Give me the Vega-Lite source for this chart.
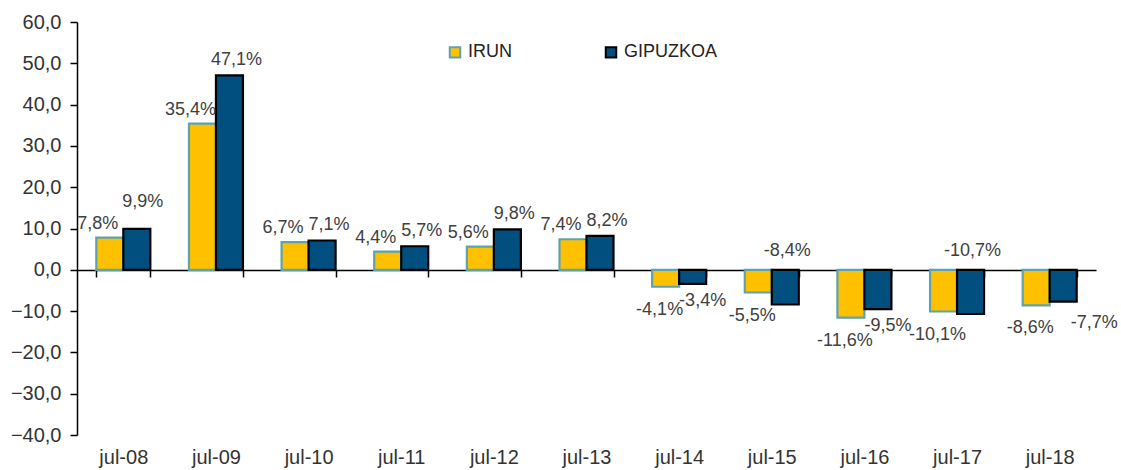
{
  "$schema": "https://vega.github.io/schema/vega-lite/v6.json",
  "autosize": {"type": "none"},
  "width": 1019,
  "height": 413,
  "padding": {"left": 77, "top": 22, "right": 25, "bottom": 35},
  "background": "white",
  "config": {
    "view": {"stroke": null},
    "font": "Liberation Sans",
    "axis": {"grid": false, "labelFont": "Liberation Sans", "labelColor": "#333333"},
    "legend": {"labelFont": "Liberation Sans"}
  },
  "data": {
    "values": [
      {"cat": "jul-08", "serie": "IRUN", "v": 7.8, "label": "7,8%"},
      {"cat": "jul-08", "serie": "GIPUZKOA", "v": 9.9, "label": "9,9%"},
      {"cat": "jul-09", "serie": "IRUN", "v": 35.4, "label": "35,4%"},
      {"cat": "jul-09", "serie": "GIPUZKOA", "v": 47.1, "label": "47,1%"},
      {"cat": "jul-10", "serie": "IRUN", "v": 6.7, "label": "6,7%"},
      {"cat": "jul-10", "serie": "GIPUZKOA", "v": 7.1, "label": "7,1%"},
      {"cat": "jul-11", "serie": "IRUN", "v": 4.4, "label": "4,4%"},
      {"cat": "jul-11", "serie": "GIPUZKOA", "v": 5.7, "label": "5,7%"},
      {"cat": "jul-12", "serie": "IRUN", "v": 5.6, "label": "5,6%"},
      {"cat": "jul-12", "serie": "GIPUZKOA", "v": 9.8, "label": "9,8%"},
      {"cat": "jul-13", "serie": "IRUN", "v": 7.4, "label": "7,4%"},
      {"cat": "jul-13", "serie": "GIPUZKOA", "v": 8.2, "label": "8,2%"},
      {"cat": "jul-14", "serie": "IRUN", "v": -4.1, "label": "-4,1%"},
      {"cat": "jul-14", "serie": "GIPUZKOA", "v": -3.4, "label": "-3,4%"},
      {"cat": "jul-15", "serie": "IRUN", "v": -5.5, "label": "-5,5%"},
      {"cat": "jul-15", "serie": "GIPUZKOA", "v": -8.4, "label": "-8,4%"},
      {"cat": "jul-16", "serie": "IRUN", "v": -11.6, "label": "-11,6%"},
      {"cat": "jul-16", "serie": "GIPUZKOA", "v": -9.5, "label": "-9,5%"},
      {"cat": "jul-17", "serie": "IRUN", "v": -10.1, "label": "-10,1%"},
      {"cat": "jul-17", "serie": "GIPUZKOA", "v": -10.7, "label": "-10,7%"},
      {"cat": "jul-18", "serie": "IRUN", "v": -8.6, "label": "-8,6%"},
      {"cat": "jul-18", "serie": "GIPUZKOA", "v": -7.7, "label": "-7,7%"}
    ]
  },
  "encoding": {
    "x": {
      "field": "cat", "type": "nominal", "sort": null,
      "scale": {"paddingInner": 0.417, "paddingOuter": 0.2085},
      "axis": {
        "title": null, "labelAngle": 0, "offset": -165,
        "domainColor": "#000000", "domainWidth": 1.5,
        "tickColor": "#000000", "tickSize": 7, "tickWidth": 1.5, "tickBand": "extent",
        "labelFontSize": 20, "labelPadding": 170, "labelBaseline": "top"
      }
    },
    "xOffset": {"field": "serie", "type": "nominal", "sort": ["IRUN", "GIPUZKOA"]},
    "y": {
      "field": "v", "type": "quantitative",
      "scale": {"domain": [-40, 60], "nice": false, "zero": false},
      "axis": {
        "title": null,
        "values": [-40, -30, -20, -10, 0, 10, 20, 30, 40, 50, 60],
        "labelExpr": "replace(format(datum.value, '.1f'), '.', ',')",
        "domainColor": "#000000", "domainWidth": 1.5,
        "tickColor": "#000000", "tickSize": 7, "tickWidth": 1.5,
        "labelFontSize": 20, "labelPadding": 9
      }
    }
  },
  "layer": [
    {
      "mark": {"type": "bar", "strokeWidth": 2.2},
      "encoding": {
        "fill": {
          "field": "serie", "type": "nominal",
          "scale": {"domain": ["IRUN", "GIPUZKOA"], "range": ["#FFC000", "#004F7F"]},
          "legend": {
            "title": null, "orient": "none", "legendX": 369, "legendY": 21,
            "direction": "horizontal", "columns": 2, "gridAlign": "all", "columnPadding": 39,
            "symbolType": "square", "symbolSize": 110, "symbolStrokeWidth": 2,
            "labelFontSize": 18, "labelColor": "#222222", "labelOffset": 4, "padding": 0
          }
        },
        "stroke": {
          "field": "serie", "type": "nominal",
          "scale": {"domain": ["IRUN", "GIPUZKOA"], "range": ["#5DA3AE", "#000000"]},
          "legend": {
            "title": null, "orient": "none", "legendX": 369, "legendY": 21,
            "direction": "horizontal", "columns": 2, "gridAlign": "all", "columnPadding": 39,
            "symbolType": "square", "symbolSize": 110, "symbolStrokeWidth": 2,
            "labelFontSize": 18, "labelColor": "#222222", "labelOffset": 4, "padding": 0
          }
        }
      }
    },
    {
      "transform": [{"filter": "datum.serie === 'IRUN' && datum.v > 0"}],
      "mark": {"type": "text", "fontSize": 18, "color": "#404040", "baseline": "middle", "dx": -12, "dy": -14},
      "encoding": {"text": {"field": "label"}}
    },
    {
      "transform": [{"filter": "datum.serie === 'GIPUZKOA' && datum.v > 0 && datum.cat !== 'jul-08'"}],
      "mark": {"type": "text", "fontSize": 18, "color": "#404040", "baseline": "middle", "dx": 7, "dy": -15},
      "encoding": {"text": {"field": "label"}}
    },
    {
      "transform": [{"filter": "datum.serie === 'GIPUZKOA' && datum.cat === 'jul-08'"}],
      "mark": {"type": "text", "fontSize": 18, "color": "#404040", "baseline": "middle", "dx": 6, "dy": -27},
      "encoding": {"text": {"field": "label"}}
    },
    {
      "transform": [{"filter": "datum.serie === 'IRUN' && datum.v < 0"}],
      "mark": {"type": "text", "fontSize": 18, "color": "#404040", "baseline": "middle", "dx": -6, "dy": 23},
      "encoding": {"text": {"field": "label"}}
    },
    {
      "transform": [{"filter": "datum.serie === 'GIPUZKOA' && datum.v < 0 && datum.cat !== 'jul-15' && datum.cat !== 'jul-17' && datum.cat !== 'jul-18'"}],
      "mark": {"type": "text", "fontSize": 18, "color": "#404040", "baseline": "middle", "dx": 10, "dy": 17},
      "encoding": {"text": {"field": "label"}}
    },
    {
      "transform": [{"filter": "datum.serie === 'GIPUZKOA' && (datum.cat === 'jul-15' || datum.cat === 'jul-17')"}],
      "mark": {"type": "text", "fontSize": 18, "color": "#404040", "baseline": "middle", "dx": 2, "dy": -19},
      "encoding": {"text": {"field": "label"}, "y": {"datum": 0}}
    },
    {
      "transform": [{"filter": "datum.serie === 'GIPUZKOA' && datum.cat === 'jul-18'"}],
      "mark": {"type": "text", "fontSize": 18, "color": "#404040", "baseline": "middle", "dx": 31, "dy": 21},
      "encoding": {"text": {"field": "label"}}
    }
  ]
}
